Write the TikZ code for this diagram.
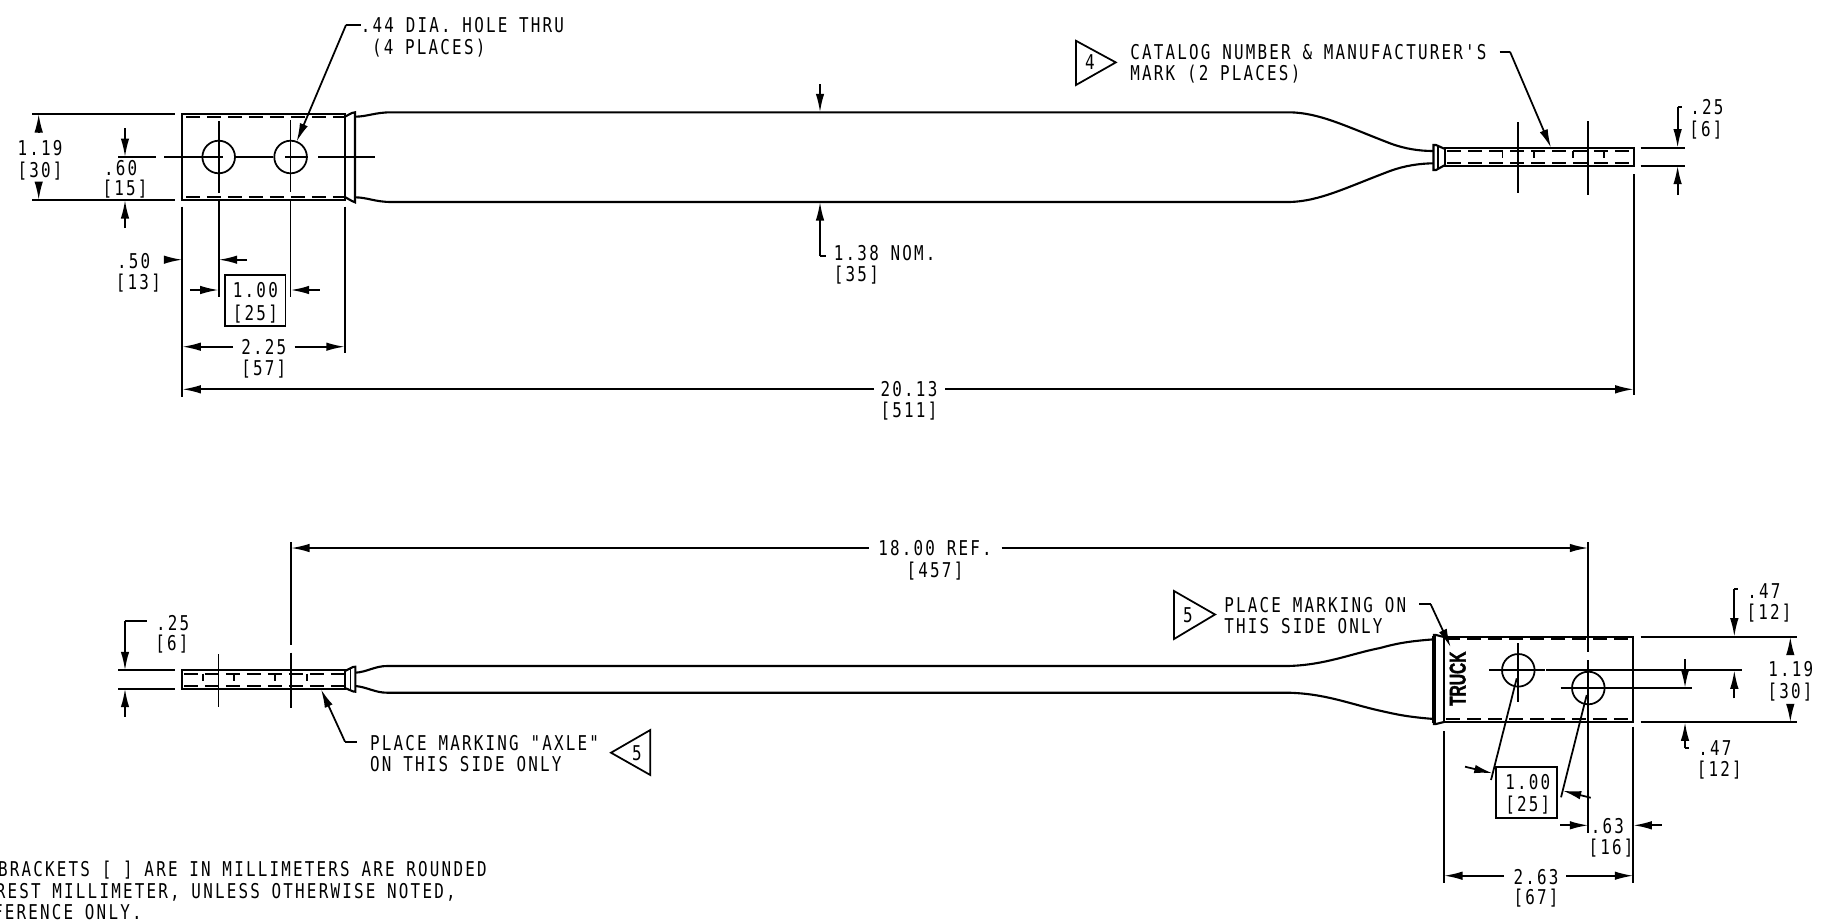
\documentclass[tikz,border=0pt]{standalone}
\usepackage{fontspec}
\newfontfamily\drawfont[FakeStretch=0.78,LetterSpace=10.8]{DejaVu Sans Mono}
\newfontfamily\truckfont[FakeStretch=0.68,BoldFeatures={FakeBold=1.5}]{Liberation Sans}
\usetikzlibrary{arrows.meta}
\tikzset{
  part/.style={line width=1.2pt},
  thin line/.style={line width=1pt},
  hidden/.style={line width=1pt,dash pattern=on 0.28cm off 0.14cm},
  dimline/.style={line width=1pt,-{Latex[length=0.37cm,width=0.17cm]}},
  hole/.style={circle,draw,line width=1pt,minimum size=0.652cm,inner sep=0pt},
  dimtext/.style={inner sep=0pt,text height=8.5pt,text depth=0pt,font=\drawfont\fontsize{11.6pt}{14pt}\selectfont},
  flag/.style={line width=1pt}
}
\begin{document}
\begin{tikzpicture}[x=0.02cm,y=-0.02cm]
  \useasboundingbox (0,0) rectangle (1828,920);

  \draw[part] (182.3,114) rectangle (344.8,200);
  \draw[hidden] (186,116.7) -- (344.8,116.7);
  \draw[hidden] (186,196.7) -- (344.8,196.7);
  \draw[part] (344.8,116.7) -- (352,113) -- (355,112.3) -- (355,202.3) -- (352,201) -- (344.8,197);
  \draw[part] (355,116.7) .. controls (368,116.5) and (375,112.3) .. (391.5,112.3) -- (1290,112.3)
    .. controls (1320,113) and (1345,126) .. (1390,143.3) .. controls (1405,149) and (1420,151) .. (1433,151);
  \draw[part] (355,197.3) .. controls (368,197.5) and (375,202) .. (391.5,202) -- (1290,202)
    .. controls (1320,201) and (1345,188) .. (1390,171) .. controls (1405,165.5) and (1420,163.5) .. (1433,163.3);
  \draw[part] (1445,149) -- (1436,145) -- (1433.5,145) -- (1433.5,170) -- (1436,170) -- (1445,165);
  \draw[thin line] (1438,146) -- (1438,169);
  \draw[part] (1445,147.7) rectangle (1633.7,165.7);
  \draw[hidden] (1447,150.7) -- (1633.7,150.7);
  \draw[hidden] (1447,162.7) -- (1633.7,162.7);
  \foreach \x in {1502.5,1534.3,1573,1603.7} {
    \draw[thin line] (\x,150.7) -- (\x,158);
  }

  \node[hole] (topHoleA) at (218.7,157) {};
  \node[hole] (topHoleB) at (290.6,157) {};
  \draw[thin line] (118,157) -- (156,157);
  \draw[thin line] (164,157) -- (223.4,157);
  \draw[thin line] (topHoleA.east) -- (topHoleB.west);
  \draw[thin line] (285,157) -- (308.4,157);
  \draw[thin line] (318,157) -- (374.5,157);
  \draw[thin line] (218.7,121.3) -- (218.7,193.3);
  \draw[thin line] (290.6,120) -- (290.6,192.3);
  \draw[thin line] (218.7,200) -- (218.7,296.7);
  \draw[thin line] (290.6,200) -- (290.6,296.7);

  \draw[thin line] (32.4,114) -- (175,114);
  \draw[thin line] (32.4,200) -- (175,200);
  \draw[thin line] (182.3,206.7) -- (182.3,396.7);
  \draw[thin line] (344.8,206.7) -- (344.8,353.3);
  \draw[thin line] (1633.7,174) -- (1633.7,395);
  \draw[thin line] (1518,122.3) -- (1518,192.7);
  \draw[thin line] (1588.3,121) -- (1588.3,195.3);
  \draw[thin line] (1640.5,147.7) -- (1684.7,147.7);
  \draw[thin line] (1640.5,165.7) -- (1684.7,165.7);

  \draw[dimline] (38.7,132.7) -- (38.7,114);
  \draw[dimline] (38.7,185) -- (38.7,200);
  \node[dimtext] (topTotalIn) at (40,148) {1.19};
  \node[dimtext] (topTotalMm) at (40,170) {[30]};
  \draw[dimline] (125,128.3) -- (125,157);
  \draw[dimline] (125,228) -- (125,200);
  \node[dimtext] (topCenterIn) at (120.6,167.7) {.60};
  \node[dimtext] (topCenterMm) at (125,188.3) {[15]};
  \draw[dimline] (167,259.7) -- (182.3,259.7);
  \draw[dimline] (247,259.7) -- (218.7,259.7);
  \node[dimtext] (topEdgeIn) at (133.6,260.7) {.50};
  \node[dimtext] (topEdgeMm) at (138.4,281.7) {[13]};
  \draw[thin line] (225,275.3) rectangle (285.5,326);
  \node[dimtext] (topPitchIn) at (255.4,290) {1.00};
  \node[dimtext] (topPitchMm) at (255.4,312.7) {[25]};
  \draw[dimline] (190,290) -- (218.7,290);
  \draw[dimline] (319.5,290) -- (290.6,290);
  \node[dimtext] (topBlockIn) at (263.7,346.7) {2.25};
  \node[dimtext] (topBlockMm) at (263.7,368.3) {[57]};
  \draw[dimline] (233,346.7) -- (182.3,346.7);
  \draw[dimline] (294.6,346.7) -- (344.8,346.7);
  \node[dimtext] (topLengthIn) at (909,389.3) {20.13};
  \node[dimtext] (topLengthMm) at (909,410.4) {[511]};
  \draw[dimline] (874,389.3) -- (182.3,389.3);
  \draw[dimline] (945,389.3) -- (1633.7,389.3);

  \node[dimtext,anchor=west] (holeNoteA) at (360.6,25) {.44 DIA. HOLE THRU};
  \node[dimtext,anchor=west] (holeNoteB) at (371.7,46.7) {(4 PLACES)};
  \coordinate (holeElbow) at (346,25);
  \draw[thin line] (holeNoteA.west) -- (holeElbow);
  \draw[dimline] (holeElbow) -- (296.6,141.7);

  \draw[dimline] (820,84) -- (820,112.3);
  \draw[dimline] (820,256) -- (820,202);
  \draw[thin line] (820,256) -- (825.5,256);
  \node[dimtext,anchor=west] (widthIn) at (833.6,253) {1.38 NOM.};
  \node[dimtext,anchor=west] (widthMm) at (833.6,274) {[35]};

  \draw[dimline] (1677.6,106.7) -- (1677.6,147.7);
  \draw[thin line] (1677.6,106.7) -- (1681.7,106.7);
  \draw[dimline] (1677.6,195) -- (1677.6,165.7);
  \node[dimtext] (topTipIn) at (1706.8,107.3) {.25};
  \node[dimtext] (topTipMm) at (1706,129.3) {[6]};

  \draw[flag] (1076,40.8) -- (1115.8,62.4) -- (1076,85) -- cycle;
  \node[dimtext] (flagFour) at (1090,62.4) {4};
  \node[dimtext,anchor=west] (catalogA) at (1130,52.5) {CATALOG NUMBER \& MANUFACTURER'S};
  \node[dimtext,anchor=west] (catalogB) at (1130,73.5) {MARK (2 PLACES)};
  \coordinate (catalogElbow) at (1510,51.7);
  \draw[thin line] (1499.5,51.7) -- (catalogElbow);
  \draw[dimline] (catalogElbow) -- (1551,147.7);

  \draw[dimline] (868.7,548) -- (291,548);
  \draw[dimline] (1001.5,548) -- (1588.3,548);
  \node[dimtext] (refIn) at (935,548) {18.00 REF.};
  \node[dimtext] (refMm) at (935,570) {[457]};
  \draw[thin line] (291,542) -- (291,645);
  \draw[thin line] (291,652.7) -- (291,708.3);
  \draw[thin line] (218.6,654.3) -- (218.6,707.3);
  \draw[thin line] (1588.3,542) -- (1588.3,651.7);
  \draw[thin line] (1588.3,660) -- (1588.3,833);

  \draw[part] (182.3,670.3) rectangle (345,688.7);
  \draw[hidden] (184,673.7) -- (345,673.7);
  \draw[hidden] (184,686) -- (345,686);
  \foreach \x in {203,234,275,306.7} {
    \draw[thin line] (\x,673.7) -- (\x,681);
  }
  \draw[part] (345,671) -- (353,667) -- (355.3,666.7) -- (355.3,691.7) -- (353,691.4) -- (345,688);
  \draw[thin line] (350.5,668) -- (350.5,690.5);
  \draw[part] (355.3,672.7) .. controls (367,672) and (375,666) .. (387,666) -- (1288,666)
    .. controls (1325,665) and (1350,654) .. (1380,648) .. controls (1395,644) and (1405,641.5) .. (1434,639.3);
  \draw[part] (355.3,686) .. controls (367,687) and (375,692.7) .. (387,692.7) -- (1288,692.7)
    .. controls (1325,693.5) and (1350,704) .. (1380,710.7) .. controls (1395,714) and (1405,716.7) .. (1434,719);

  \draw[thin line] (118,670.3) -- (174.6,670.3);
  \draw[thin line] (118,688.7) -- (174.6,688.7);
  \draw[dimline] (125,621) -- (125,670.3);
  \draw[thin line] (125,621) -- (146.7,621);
  \draw[dimline] (125,716.7) -- (125,688.7);
  \node[dimtext] (lowTipIn) at (172.7,622.7) {.25};
  \node[dimtext] (lowTipMm) at (172,643.3) {[6]};

  \coordinate (axleElbow) at (345,741.7);
  \draw[dimline] (axleElbow) -- (321,689.3);
  \draw[thin line] (axleElbow) -- (357,741.7);
  \node[dimtext,anchor=west] (axleA) at (369.8,742.7) {PLACE MARKING "AXLE"};
  \node[dimtext,anchor=west] (axleB) at (369.8,764.3) {ON THIS SIDE ONLY};
  \draw[flag] (611,752.7) -- (650.3,730) -- (650.3,775) -- cycle;
  \node[dimtext] (flagFiveA) at (637,753) {5};

  \draw[part] (1444,636.7) rectangle (1633.3,722.3);
  \draw[hidden] (1446,639.3) -- (1633.3,639.3);
  \draw[hidden] (1446,719) -- (1633.3,719);
  \draw[part] (1444,637) -- (1436,635) -- (1434,635) -- (1434,724) -- (1436,724) -- (1444,722);
  \draw[line width=1.8pt] (1434,636) -- (1434,723);
  \node[rotate=90,inner sep=0pt,font=\truckfont\fontsize{13pt}{14pt}\selectfont\bfseries] (truck) at (1457.7,678.7) {TRUCK};

  \node[hole] (lowHoleA) at (1518.3,670.3) {};
  \node[hole] (lowHoleB) at (1588.3,688) {};
  \draw[thin line] (1489.3,670.3) -- (1545,670.3);
  \draw[thin line] (1518.3,643.3) -- (1518.3,701.7);
  \draw[thin line] (1546,670.3) -- (1741.7,670.3);
  \draw[thin line] (1560.7,688) -- (1691.7,688);

  \draw[thin line] (1640.7,636.7) -- (1796.7,636.7);
  \draw[thin line] (1640.7,722.3) -- (1796.7,722.3);
  \draw[thin line] (1444,731) -- (1444,882.7);
  \draw[thin line] (1633.3,726.7) -- (1633.3,882.7);

  \draw[dimline] (1734.3,589.3) -- (1734.3,636.7);
  \draw[thin line] (1734.3,589.3) -- (1738.3,589.3);
  \draw[dimline] (1734.3,698.3) -- (1734.3,670.3);
  \draw[dimline] (1685,659.3) -- (1685,688);
  \draw[dimline] (1685,748.3) -- (1685,722.3);
  \draw[thin line] (1685,748.3) -- (1689.3,748.3);
  \draw[dimline] (1790.3,653.3) -- (1790.3,636.7);
  \draw[dimline] (1790.3,705) -- (1790.3,722.3);
  \node[dimtext] (lowTotalIn) at (1790.7,669) {1.19};
  \node[dimtext] (lowTotalMm) at (1790,690.7) {[30]};
  \node[dimtext] (lowUpperIn) at (1764,590.7) {.47};
  \node[dimtext] (lowUpperMm) at (1769,611.7) {[12]};
  \node[dimtext] (lowLowerIn) at (1715,748.3) {.47};
  \node[dimtext] (lowLowerMm) at (1719.3,769.3) {[12]};

  \draw[thin line] (1496.3,767.3) rectangle (1557.3,818);
  \node[dimtext] (lowPitchIn) at (1527.7,782.3) {1.00};
  \node[dimtext] (lowPitchMm) at (1527.7,804) {[25]};
  \draw[thin line] (1516.7,678.3) -- (1491,780);
  \draw[thin line] (1586.7,695) -- (1561,797.3);
  \draw[dimline] (1465,766.7) -- (1492.7,773.3);
  \draw[dimline] (1590.7,797.7) -- (1562.7,790.7);

  \draw[dimline] (1560,825.3) -- (1588.3,825.3);
  \draw[dimline] (1661.7,825.3) -- (1633.3,825.3);
  \node[dimtext] (lowEdgeIn) at (1607.3,825.7) {.63};
  \node[dimtext] (lowEdgeMm) at (1611,846.7) {[16]};
  \node[dimtext] (lowBlockIn) at (1536,876.7) {2.63};
  \node[dimtext] (lowBlockMm) at (1536,897.3) {[67]};
  \draw[dimline] (1504,875.7) -- (1444,875.7);
  \draw[dimline] (1566,875.7) -- (1633.3,875.7);

  \draw[flag] (1174,591) -- (1215,614.5) -- (1174,639) -- cycle;
  \node[dimtext] (flagFiveB) at (1188,615) {5};
  \node[dimtext,anchor=west] (truckNoteA) at (1224,605) {PLACE MARKING ON};
  \node[dimtext,anchor=west] (truckNoteB) at (1224,626) {THIS SIDE ONLY};
  \coordinate (truckElbow) at (1430.7,604.3);
  \draw[thin line] (1419.3,604.3) -- (truckElbow);
  \draw[dimline] (truckElbow) -- (1450.7,647.3);

  \node[dimtext,anchor=east] (noteA) at (487,869.3) {BRACKETS [ ] ARE IN MILLIMETERS ARE ROUNDED};
  \node[dimtext,anchor=east] (noteB) at (456,891) {REST MILLIMETER, UNLESS OTHERWISE NOTED,};
  \node[dimtext,anchor=east] (noteC) at (142,911.7) {FERENCE ONLY.};
\end{tikzpicture}
\end{document}
